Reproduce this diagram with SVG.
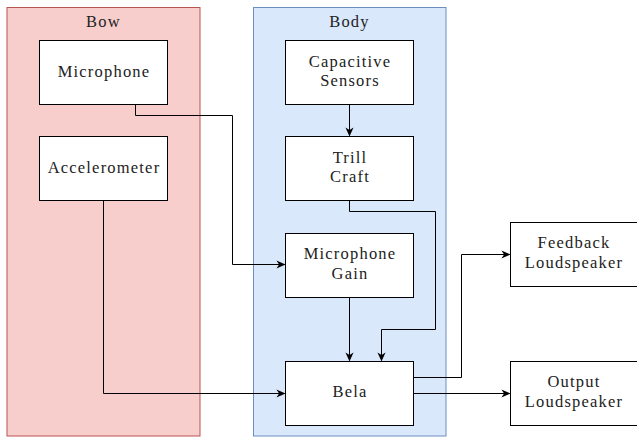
<svg xmlns="http://www.w3.org/2000/svg" width="637" height="437" viewBox="0 0 637 437">
<defs>
<marker id="arr" viewBox="0 0 10 10" refX="9" refY="5" markerWidth="9" markerHeight="9" markerUnits="userSpaceOnUse" orient="auto">
<path d="M0,0.5 L10,5 L0,9.5 L3,5 Z" fill="#000"/>
</marker>
<style>
.box{fill:#fff;stroke:#000;stroke-width:1}
.t{font-size:16.5px;letter-spacing:1.2px;fill:#222;text-anchor:middle}
.c{fill:none;stroke:#000;stroke-width:1;marker-end:url(#arr)}
</style>
</defs>
<rect width="637" height="437" fill="#fff"/>
<g font-family="Liberation Serif, Times New Roman, serif">
<g id="bow">
<rect x="7" y="7.5" width="193" height="428.5" fill="#f8cecc" stroke="#b85450"/>
<text class="t" x="103.5" y="27">Bow</text>
</g>
<g id="body">
<rect x="253.5" y="7.5" width="192.5" height="428.5" fill="#dae8fc" stroke="#6c8ebf"/>
<text class="t" x="349.5" y="27">Body</text>
</g>
<g id="microphone">
<rect class="box" x="39.5" y="40.5" width="128" height="64"/>
<text class="t" x="104" y="77">Microphone</text>
</g>
<g id="accelerometer">
<rect class="box" x="39.5" y="136.5" width="128" height="64"/>
<text class="t" x="104" y="173">Accelerometer</text>
</g>
<g id="capacitive">
<rect class="box" x="285.5" y="40.5" width="128" height="64"/>
<text class="t" x="350" y="67">Capacitive</text>
<text class="t" x="350" y="86">Sensors</text>
</g>
<g id="trill">
<rect class="box" x="285.5" y="136.5" width="128" height="64"/>
<text class="t" x="350" y="163">Trill</text>
<text class="t" x="350" y="182">Craft</text>
</g>
<g id="micgain">
<rect class="box" x="285.5" y="233.5" width="128" height="64"/>
<text class="t" x="350" y="259">Microphone</text>
<text class="t" x="350" y="279">Gain</text>
</g>
<g id="bela">
<rect class="box" x="285.5" y="361.5" width="128" height="64"/>
<text class="t" x="350" y="397">Bela</text>
</g>
<g id="feedback">
<rect class="box" x="510.5" y="222.5" width="130" height="64"/>
<text class="t" x="574" y="248">Feedback</text>
<text class="t" x="574" y="268">Loudspeaker</text>
</g>
<g id="output">
<rect class="box" x="510.5" y="361.5" width="130" height="64"/>
<text class="t" x="574" y="387">Output</text>
<text class="t" x="574" y="407">Loudspeaker</text>
</g>
</g>
<g id="connectors">
<path class="c" d="M135.5,104.5 V115.5 H232.5 V264.5 H284.5"/>
<path class="c" d="M103.5,200.5 V393.5 H284.5"/>
<path class="c" d="M349.5,104.5 V135.5"/>
<path class="c" d="M349.5,200.5 V211.5 H435.5 V329.5 H381.5 V360.5"/>
<path class="c" d="M349.5,297.5 V360.5"/>
<path class="c" d="M413.5,377.5 H461.5 V254.5 H509.5"/>
<path class="c" d="M413.5,393.5 H509.5"/>
</g>
</svg>
